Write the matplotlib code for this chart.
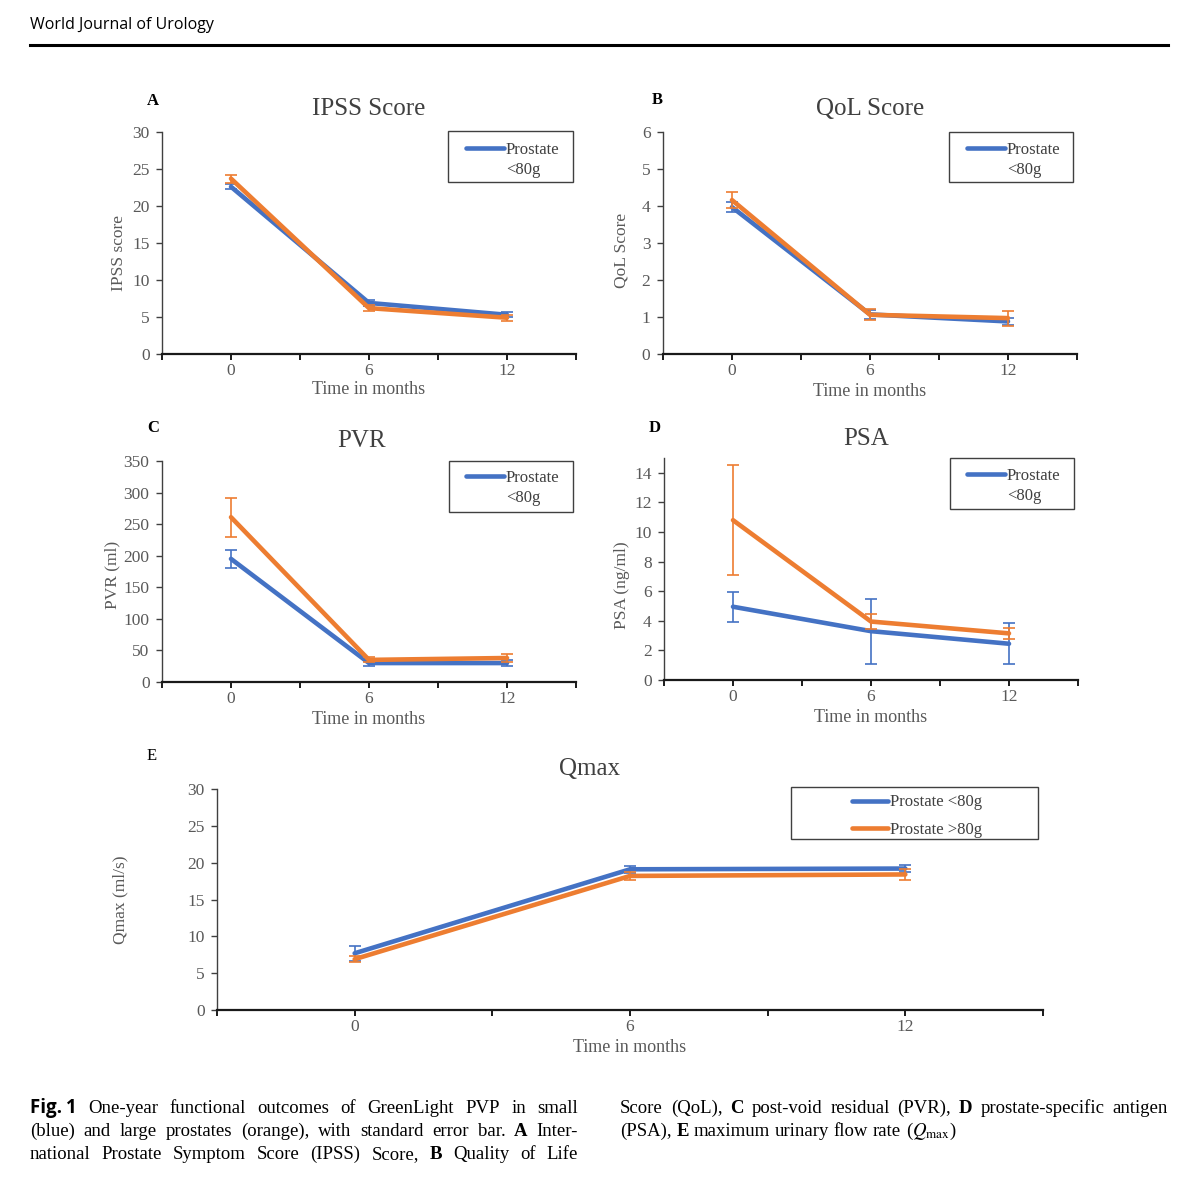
import matplotlib
matplotlib.use('Agg')
import matplotlib.pyplot as plt
from matplotlib.lines import Line2D
from matplotlib.patches import Rectangle
import numpy as np

W, H = 1200, 1178
plt.rcParams['font.family'] = ['Liberation Serif', 'DejaVu Serif']
plt.rcParams['mathtext.fontset'] = 'stix'

# ---------------- data ----------------
months = ['0', '6', '12']

ipss_small = [22.6, 6.9, 5.3]
ipss_small_err = [0.35, 0.35, 0.35]
ipss_large = [23.7, 6.2, 4.9]
ipss_large_err = [0.55, 0.4, 0.4]

qol_small = [3.97, 1.07, 0.88]
qol_small_err = [0.14, 0.12, 0.10]
qol_large = [4.16, 1.06, 0.97]
qol_large_err = [0.22, 0.15, 0.20]

pvr_small = [195, 30, 30]
pvr_small_err = [14, 4, 5]
pvr_large = [261, 35, 38]
pvr_large_err = [31, 4, 6]

psa_small = [4.95, 3.3, 2.45]
psa_small_err = [1.0, 2.2, 1.4]
psa_large = [10.8, 3.95, 3.15]
psa_large_err = [3.7, 0.5, 0.35]

qmax_small = [7.7, 19.1, 19.2]
qmax_small_err = [1.0, 0.5, 0.5]
qmax_large = [6.9, 18.2, 18.4]
qmax_large_err = [0.4, 0.6, 0.7]

BLUE = '#4472C4'
ORANGE = '#ED7D31'
GRAY = '#595959'
DARK = '#404040'

fig = plt.figure(figsize=(12, 11.78), dpi=100)


def fx(x):
    return x / W


def fy(y):
    return 1 - y / H


def rect(x0, x1, ytop, ybot):
    return [x0 / W, 1 - ybot / H, (x1 - x0) / W, (ybot - ytop) / H]


def panel(box, small, small_err, large, large_err, ylim, yticks, title, tpos,
          ylabel, ylpos, xlpos, letter, lpos, letter_bold=True):
    ax = fig.add_axes(rect(*box))
    x = np.arange(len(months))
    ax.errorbar(x, small, yerr=small_err, color=BLUE, lw=3.3, elinewidth=1.2,
                capsize=4, capthick=1.2, zorder=2, solid_capstyle='round')
    ax.errorbar(x, large, yerr=large_err, color=ORANGE, lw=3.3, elinewidth=1.2,
                capsize=4, capthick=1.2, zorder=3, solid_capstyle='round')
    ax.set_xlim(-0.5, len(months) - 0.5)
    ax.set_ylim(*ylim)
    ax.set_yticks(yticks)
    ax.set_xticks(x)
    ax.set_xticklabels(months)
    ax.set_xticks(np.arange(-0.5, len(months), 1.0), minor=True)
    for s in ['top', 'right']:
        ax.spines[s].set_visible(False)
    ax.spines['left'].set_color(DARK)
    ax.spines['left'].set_linewidth(1.0)
    ax.spines['bottom'].set_color('#1a1a1a')
    ax.spines['bottom'].set_linewidth(1.6)
    ax.tick_params(axis='x', which='both', direction='out', length=4.5,
                   width=1.4, color='#1a1a1a', labelsize=12.5, labelcolor=GRAY,
                   pad=2)
    ax.tick_params(axis='y', direction='out', length=4, width=1.0,
                   color=DARK, labelsize=12.5, labelcolor=GRAY, pad=5)
    ax.patch.set_alpha(0)
    # texts
    fig.text(fx(tpos[0]), fy(tpos[1]), title, ha='center', va='center',
             fontsize=18, color=DARK)
    fig.text(fx(ylpos[0]), fy(ylpos[1]), ylabel, ha='center', va='center',
             rotation=90, fontsize=12.5, color=GRAY)
    fig.text(fx(xlpos[0]), fy(xlpos[1]), 'Time in months', ha='center',
             va='center', fontsize=13, color=GRAY)
    fig.text(fx(lpos[0]), fy(lpos[1]), letter, ha='center', va='center',
             fontsize=12, color='black',
             fontweight='bold' if letter_bold else 'normal')
    return ax


def small_legend(ax, bx0, bx1, by0, by1, hx, hy):
    fig.patches.append(Rectangle((fx(bx0), fy(by1)), (bx1 - bx0) / W,
                                 (by1 - by0) / H, transform=fig.transFigure,
                                 fill=False, edgecolor=DARK, lw=1.0))
    handles = [Line2D([], [], color=BLUE, lw=3.3, solid_capstyle='round'),
               Line2D([], [], color='none')]
    ax.legend(handles, ['Prostate', '<80g'], loc='upper left',
              bbox_to_anchor=(fx(hx), fy(hy)), bbox_transform=fig.transFigure,
              frameon=False, borderpad=0, borderaxespad=0, handlelength=2.3,
              handletextpad=0.08, labelspacing=0.25, fontsize=12,
              labelcolor=DARK)


axA = panel((162, 576, 132, 354), ipss_small, ipss_small_err, ipss_large,
            ipss_large_err, (0, 30), np.arange(0, 31, 5), 'IPSS Score',
            (369, 109), 'IPSS score', (119, 253), (369, 390), 'A', (153, 101))
small_legend(axA, 448, 573, 131, 182, 466, 141.5)

axB = panel((663, 1077, 132, 354), qol_small, qol_small_err, qol_large,
            qol_large_err, (0, 6), np.arange(0, 7, 1), 'QoL Score',
            (870, 109), 'QoL Score', (621, 250), (870, 391), 'B', (657, 100))
small_legend(axB, 949, 1073, 132, 182, 967, 142)

axC = panel((162, 576, 461, 682), pvr_small, pvr_small_err, pvr_large,
            pvr_large_err, (0, 350), np.arange(0, 351, 50), 'PVR',
            (362, 441), 'PVR (ml)', (112, 575), (369, 719), 'C', (153, 428))
small_legend(axC, 449, 573, 461, 512, 466, 470)

axD = panel((664, 1078, 458, 680), psa_small, psa_small_err, psa_large,
            psa_large_err, (0, 15), np.arange(0, 15, 2), 'PSA',
            (866, 439), 'PSA (ng/ml)', (622, 585), (871, 717), 'D', (655, 428))
small_legend(axD, 950, 1074, 458, 509, 967, 468)

axE = panel((217, 1043, 789, 1010), qmax_small, qmax_small_err, qmax_large,
            qmax_large_err, (0, 30), np.arange(0, 31, 5), 'Qmax',
            (590, 769), 'Qmax (ml/s)', (120, 900), (630, 1047), 'E', (152, 756),
            letter_bold=False)
fig.patches.append(Rectangle((fx(791), fy(839)), (1038 - 791) / W,
                             (839 - 787) / H, transform=fig.transFigure,
                             fill=False, edgecolor=DARK, lw=1.0))
axE.legend([Line2D([], [], color=BLUE, lw=3.3, solid_capstyle='round'),
            Line2D([], [], color=ORANGE, lw=3.3, solid_capstyle='round')],
           ['Prostate <80g', 'Prostate >80g'], loc='upper left',
           bbox_to_anchor=(fx(852), fy(794.5)), bbox_transform=fig.transFigure,
           frameon=False, borderpad=0, borderaxespad=0, handlelength=2.15,
           handletextpad=0.1, labelspacing=0.66, fontsize=12, labelcolor=DARK)

# ---------------- header ----------------
fig.text(fx(30), fy(25), 'World Journal of Urology', ha='left', va='center',
         fontsize=11.5, family=['Open Sans', 'DejaVu Sans'],
         color='black')
fig.add_artist(Line2D([fx(30), fx(1168)], [fy(45), fy(45)],
                      transform=fig.transFigure, color='black', lw=2.2))

# ---------------- caption ----------------
renderer = fig.canvas.get_renderer()
CAP_FS = 13.5


def word_width(word, props):
    t = fig.text(0, 0, word, fontsize=CAP_FS, **props)
    w = t.get_window_extent(renderer).width
    t.remove()
    return w


def caption_line(segments, x0, y, width, justify=True):
    # segments: list of (word, props, space_before)
    widths = [word_width(w, p) for w, p, _ in segments]
    nat_space = word_width('a a', {}) - word_width('aa', {})
    gaps = sum(1 for _, _, s in segments[1:] if s)
    total = sum(widths)
    if justify and gaps > 0:
        gap = (width - total) / gaps
    else:
        gap = nat_space
    x = x0
    for i, ((w, p, s), ww) in enumerate(zip(segments, widths)):
        if i > 0 and s:
            x += gap
        fig.text(fx(x), fy(y), w, fontsize=CAP_FS, ha='left',
                 va='baseline', **p)
        x += ww


R = {}
B = {'fontweight': 'bold'}
FIGP = {'fontweight': 'bold', 'family': ['Open Sans', 'DejaVu Sans']}


def words(text, props=None, first_space=True):
    out = []
    for i, w in enumerate(text.split()):
        out.append((w, props if props is not None else R,
                    first_space if i == 0 else True))
    return out


line1 = [('Fig.\u20091', FIGP, False)] + words(
    'One-year functional outcomes of GreenLight PVP in small')
line2 = words('(blue) and large prostates (orange), with standard error bar.',
              None, False) + words('A', B) + words('Inter-')
line3 = words('national Prostate Symptom Score (IPSS) Score,', None, False) + \
    words('B', B) + words('Quality of Life')
line4 = words('Score (QoL),', None, False) + words('C', B) + \
    words('post-void residual (PVR),') + words('D', B) + \
    words('prostate-specific antigen')
line5 = words('(PSA),', None, False) + words('E', B) + \
    words('maximum urinary flow rate') + [('($Q_{\\mathrm{max}}$)', R, True)]

caption_line(line1, 30, 1113, 548)
caption_line(line2, 30, 1136, 548)
caption_line(line3, 30, 1159, 548)
caption_line(line4, 620, 1113, 548)
caption_line(line5, 620, 1136, 548, justify=False)

fig.savefig('out.png', dpi=100)
